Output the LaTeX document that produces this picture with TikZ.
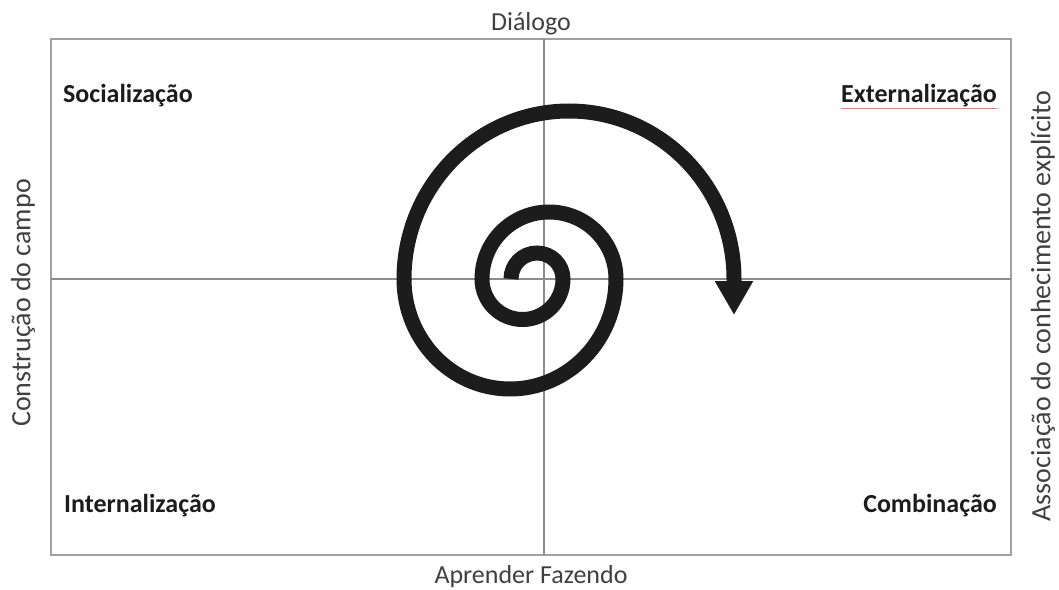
\documentclass[tikz,border=0pt]{standalone}
\usepackage{fontspec}
\setmainfont{Carlito}
\usetikzlibrary{arrows.meta}
\definecolor{framegray}{HTML}{A0A0A0}
\definecolor{crossgray}{HTML}{8C8C8C}
\definecolor{inkblack}{HTML}{1C1C1C}
\definecolor{labelgray}{HTML}{404040}

\begin{document}
\begin{tikzpicture}[x=1pt, y=1pt,
  frame/.style={draw=framegray, line width=2.5pt},
  axis/.style={draw=crossgray, line width=1.2pt},
  quadlabel/.style={font=\fontsize{26}{30}\selectfont\bfseries, text=inkblack, inner sep=0pt},
  axislabel/.style={font=\fontsize{26}{30}\selectfont, text=labelgray, inner sep=0pt},
  sidelabel/.style={font=\fontsize{28}{32}\selectfont, text=labelgray, inner sep=0pt, rotate=90},
  spiral/.style={draw=inkblack, line width=15pt}
]
\useasboundingbox (-544,-310) rectangle (515,279);

% quadrant frame and cross
\draw[frame] (-493,-276) rectangle (467,240);
\draw[axis] (0,-276) -- (0,240);
\draw[axis] (-493,0) -- (467,0);

% axis labels
\node[axislabel, anchor=base] (top) at (-13,248) {Diálogo};
\node[axislabel, anchor=base] (bottom) at (-13,-304) {Aprender Fazendo};
\node[sidelabel] (left) at (-521,-24) {Construção do campo};
\node[sidelabel] (right) at (499,-27) {Associação do conhecimento explícito};

% quadrant labels
\node[quadlabel, anchor=base west] (soc) at (-481,176) {Socialização};
\node[quadlabel, anchor=base east] (ext) at (453,176) {Externalização};
\node[quadlabel, anchor=base west] (int) at (-480,-233) {Internalização};
\node[quadlabel, anchor=base east] (comb) at (453,-233) {Combinação};
\draw[red!55, line width=1pt] ([yshift=-6pt]ext.base west) -- ([yshift=-6pt]ext.base east);

% spiral
\draw[spiral, -{Triangle[width=36pt, length=34pt]}] (-33,0)
  arc[start angle=180, end angle=0, radius=26]
  arc[start angle=0, end angle=-180, radius=40.5]
  arc[start angle=180, end angle=0, radius=67]
  arc[start angle=0, end angle=-180, x radius=106, y radius=110]
  arc[start angle=180, end angle=0, x radius=165, y radius=168]
  -- ++(0,-36);
\end{tikzpicture}
\end{document}
